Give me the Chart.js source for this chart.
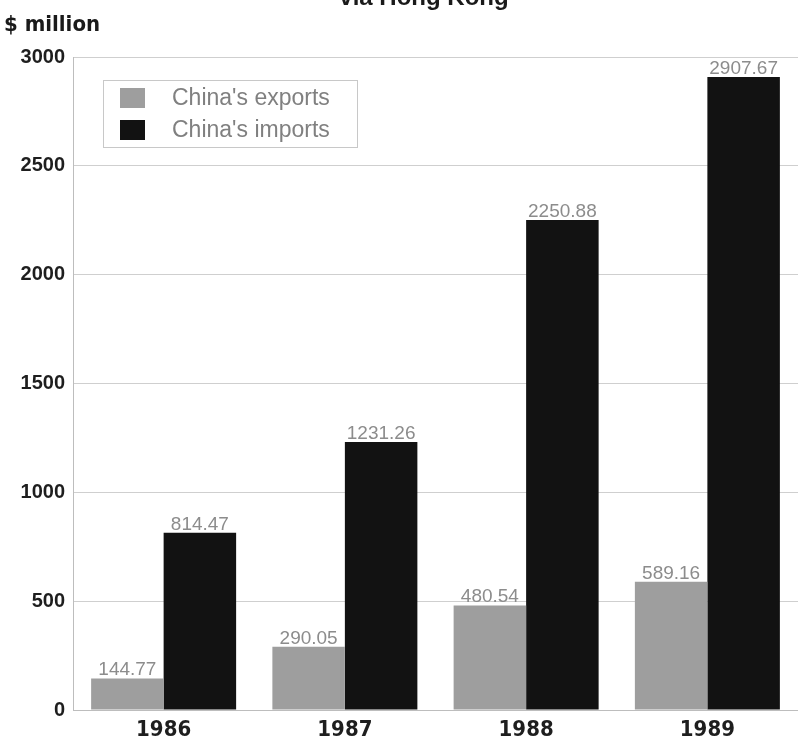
<!DOCTYPE html>
<html>
<head>
<meta charset="utf-8">
<script src="https://cdn.jsdelivr.net/npm/chart.js@4"></script>
<style>
html,body{margin:0;padding:0;background:#fff;}
#wrap{width:798px;height:743px;position:relative;}
</style>
</head>
<body>
<div id="wrap"><canvas id="c" width="798" height="743"></canvas></div>
<script>
const categories = ["1986", "1987", "1988", "1989"];
const seriesNames = ["China's exports", "China's imports"];
const exportsValues = [144.77, 290.05, 480.54, 589.16];
const importsValues = [814.47, 1231.26, 2250.88, 2907.67];
const yTicks = [0, 500, 1000, 1500, 2000, 2500, 3000];
const titleText = "via Hong Kong";
const unitText = "$ million";

const NARROW = "'Liberation Sans Narrow', 'DejaVu Sans Condensed', 'Liberation Sans', sans-serif";
const SANS = "'Liberation Sans', Arial, sans-serif";

const decorPlugin = {
  id: 'decor',
  afterDatasetsDraw(chart) {
    const ctx = chart.ctx;
    ctx.save();
    // value labels
    ctx.font = "19px " + SANS;
    ctx.fillStyle = "#8c8c8c";
    ctx.textAlign = "center";
    ctx.textBaseline = "alphabetic";
    chart.data.datasets.forEach((ds, di) => {
      const meta = chart.getDatasetMeta(di);
      meta.data.forEach((bar, i) => {
        ctx.fillText(ds.data[i].toFixed(2), bar.x, bar.y - 3);
      });
    });
    // legend box
    const ca = chart.chartArea;
    const bx = ca.left + 30, by = ca.top + 23, bw = 254, bh = 67;
    ctx.fillStyle = "#ffffff";
    ctx.fillRect(bx, by, bw, bh);
    ctx.strokeStyle = "#c8c8c8";
    ctx.lineWidth = 1;
    ctx.strokeRect(bx + 0.5, by + 0.5, bw, bh);
    ctx.textAlign = "left";
    ctx.textBaseline = "middle";
    ctx.font = "23px " + SANS;
    chart.data.datasets.forEach((ds, di) => {
      const y = by + 8 + di * 32;
      ctx.fillStyle = ds.backgroundColor;
      ctx.fillRect(bx + 17, y, 25, 20);
      ctx.fillStyle = "#808080";
      ctx.fillText(ds.label, bx + 69, y + 11);
    });
    // title (cut off at top) and unit
    ctx.fillStyle = "#1a1a1a";
    ctx.textAlign = "center";
    ctx.textBaseline = "alphabetic";
    ctx.font = "bold 24px " + SANS;
    ctx.fillText(titleText, 424, 5);
    ctx.textAlign = "left";
    ctx.font = "bold 22px " + NARROW;
    ctx.fillText(unitText, 4, 31);
    ctx.restore();
  }
};

new Chart(document.getElementById('c'), {
  type: 'bar',
  data: {
    labels: categories,
    datasets: [
      { label: seriesNames[0], data: exportsValues, backgroundColor: '#9e9e9e', categoryPercentage: 0.8, barPercentage: 1.0 },
      { label: seriesNames[1], data: importsValues, backgroundColor: '#121212', categoryPercentage: 0.8, barPercentage: 1.0 }
    ]
  },
  options: {
    responsive: false,
    animation: false,
    devicePixelRatio: 1,
    layout: { padding: { top: 57, right: 0, left: 0, bottom: 0 } },
    plugins: { legend: { display: false }, tooltip: { enabled: false }, title: { display: false } },
    scales: {
      x: {
        grid: { display: false, drawTicks: false },
        border: { display: true, color: '#bdbdbd' },
        ticks: { color: '#1e1e1e', font: { family: NARROW, size: 22, weight: 'bold' }, padding: 7 },
        afterFit(s) { s.height = 33; }
      },
      y: {
        min: 0, max: 3000,
        afterBuildTicks(s) { s.ticks = yTicks.map(v => ({ value: v })); },
        grid: { color: '#cfcfcf', drawTicks: false },
        border: { display: true, color: '#bdbdbd' },
        ticks: { color: '#1e1e1e', font: { family: SANS, size: 20, weight: 'bold' }, padding: 8,
                 callback: (v) => String(v) },
        afterFit(s) { s.width = 73; }
      }
    }
  },
  plugins: [decorPlugin]
});
</script>
</body>
</html>
